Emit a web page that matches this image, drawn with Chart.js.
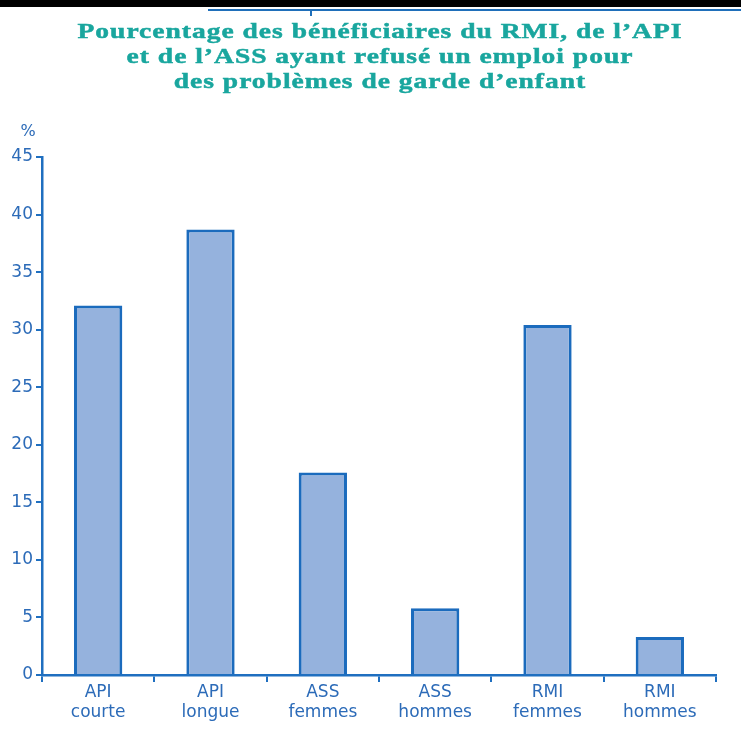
<!DOCTYPE html>
<html>
<head>
<meta charset="utf-8">
<script src="https://cdn.jsdelivr.net/npm/chart.js@4.4.1/dist/chart.umd.min.js"></script>
<style>
html,body{margin:0;padding:0;background:#fff;}
#wrap{position:relative;width:741px;height:729px;overflow:hidden;}
#topbar{position:absolute;left:0;top:0;width:741px;height:7px;background:#000;}
#blueline{position:absolute;left:208px;top:9px;width:533px;height:2px;background:#1f6fba;}
#bluetick{position:absolute;left:310px;top:9px;width:2px;height:7px;background:#1f6fba;}
canvas{position:absolute;left:0;top:0;}
</style>
</head>
<body>
<div id="wrap">
<canvas id="c" width="741" height="729"></canvas>
<div id="topbar"></div>
<div id="blueline"></div>
<div id="bluetick"></div>
</div>
<script>
const titleLines = ["Pourcentage des bénéficiaires du RMI, de l’API", "et de l’ASS ayant refusé un emploi pour", "des problèmes de garde d’enfant"];
const categories = [["API","courte"],["API","longue"],["ASS","femmes"],["ASS","hommes"],["RMI","femmes"],["RMI","hommes"]];
const values = [32.1, 38.7, 17.6, 5.8, 30.4, 3.3];
const yUnit = "%";

const blue = '#1f6fc0';
const textBlue = '#2c6bb8';

const overlay = {
  id: 'overlay',
  afterDraw(chart) {
    const ctx = chart.ctx;
    ctx.save();
    ctx.fillStyle = '#19a69e';
    ctx.strokeStyle = '#19a69e';
    ctx.lineWidth = 0.5;
    ctx.font = 'bold 22px "Liberation Serif", "DejaVu Serif", serif';
    ctx.letterSpacing = '0.8px';
    ctx.textAlign = 'center';
    ctx.textBaseline = 'middle';
    const sx = 1.25;
    titleLines.forEach((t, i) => {
      ctx.save();
      ctx.translate(380, 32 + i * 25);
      ctx.scale(sx, 1);
      ctx.fillText(t, 0, 0);
      ctx.strokeText(t, 0, 0);
      ctx.restore();
    });
    ctx.letterSpacing = '0px';
    ctx.fillStyle = textBlue;
    ctx.font = '16px "DejaVu Sans", sans-serif';
    ctx.fillText(yUnit, 28, 132);
    ctx.restore();
  }
};

new Chart(document.getElementById('c'), {
  type: 'bar',
  data: {
    labels: categories,
    datasets: [{
      data: values,
      backgroundColor: '#95b2dd',
      borderColor: '#1b6bbd',
      borderWidth: 3,
      borderSkipped: 'bottom',
      barPercentage: 0.43,
      categoryPercentage: 1.0
    }]
  },
  options: {
    responsive: false,
    animation: false,
    layout: { padding: { top: 157, right: 25, left: 0, bottom: 0 } },
    plugins: { legend: { display: false }, title: { display: false }, tooltip: { enabled: false } },
    scales: {
      y: {
        min: 0, max: 45,
        ticks: { stepSize: 5, color: textBlue, font: { family: '"DejaVu Sans", sans-serif', size: 17 }, padding: 3 },
        grid: { drawOnChartArea: false, color: blue, lineWidth: 2, tickLength: 6, tickColor: blue },
        border: { color: blue, width: 2.5 },
        afterFit(s) { s.width = 42; }
      },
      x: {
        ticks: { color: textBlue, font: { family: '"DejaVu Sans", sans-serif', size: 17, lineHeight: 1.15 }, padding: 1, maxRotation: 0 },
        grid: { drawOnChartArea: false, color: blue, lineWidth: 2, tickLength: 7, tickColor: blue, offset: true },
        border: { color: blue, width: 2.5 },
        afterFit(s) { s.height = 54; }
      }
    }
  },
  plugins: [overlay]
});
</script>
</body>
</html>
